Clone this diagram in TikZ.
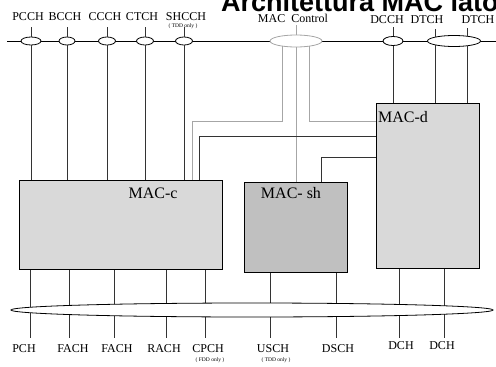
\documentclass[tikz,border=0pt]{standalone}
\usepackage{fontspec}
\setmainfont{Liberation Serif}
\setsansfont{Liberation Sans}
\usetikzlibrary{shapes.geometric,positioning}
\definecolor{boxgray}{HTML}{D9D9D9}
\definecolor{shgray}{HTML}{C0C0C0}
\definecolor{ctrlgray}{HTML}{A6A6A6}
\definecolor{linegray}{HTML}{333333}

\begin{document}
\begin{tikzpicture}[x=1pt,y=-1pt,font=\fontsize{12}{12}\selectfont,
  chan/.style={ellipse,draw,fill=white,inner sep=0pt,line width=0.8pt},
  mac/.style={draw,line width=0.8pt,fill=boxgray,anchor=north west,inner sep=0pt},
  wire/.style={linegray,line width=0.9pt},
  ctrl/.style={ctrlgray,line width=0.9pt},
  lbl/.style={inner sep=0pt,anchor=base},
  note/.style={inner sep=0pt,font=\fontsize{5.5}{6}\selectfont},
  big/.style={inner sep=0pt,font=\fontsize{16}{16}\selectfont}]
\useasboundingbox (0,0) rectangle (496,367);

% title (runs off the page)
\node[anchor=base west,inner sep=0pt,font=\fontsize{27}{27}\sffamily\bfseries] (title) at (221,11) {Architettura MAC lato};

% MAC entities
\node[mac,minimum width=203pt,minimum height=89pt] (macc) at (19,180) {};
\node[mac,fill=shgray,minimum width=103pt,minimum height=90pt] (macsh) at (244,182) {};
\node[mac,minimum width=103pt,minimum height=165pt] (macd) at (376,103) {};
\node[big] (macc-t) at (153,193) {MAC-c};
\node[big] (macsh-t) at (291,193) {MAC- sh};
\node[big,anchor=west] (macd-t) at (378,117) {MAC-d};

% logical channels (top)
\draw[line width=0.9pt] (7,41) -- (496,41);
\foreach \n/\x/\w/\lx/\t in {pcch/31/20/28/PCCH, bcch/67/16/65/BCCH,
    ccch/107/17/105/CCCH, ctch/145/17/142/CTCH, shcch/184/17/186/SHCCH}{
  \node[chan,minimum width=\w pt,minimum height=8pt] (\n) at (\x,41) {};
  \node[lbl] (\n-t) at (\lx,20) {\t};
  \draw[wire] (\n.north) -- ++(0,-10);
  \draw[wire] (\n.south) -- (\n.south |- macc.north);
}
\node[note] (shcch-n) at (183,26) {( TDD only )};

\node[chan,draw=ctrlgray,minimum width=52pt,minimum height=12pt] (ctrl) at (296,41) {};
\node[lbl] (ctrl-t) at (293,22) {MAC\ \ Control};
\draw[ctrl] (ctrl.north) -- ++(0,-10);

\node[chan,minimum width=20pt,minimum height=9pt] (dcch) at (393,41) {};
\node[chan,minimum width=53pt,minimum height=11pt] (dtch) at (454,41) {};
\node[lbl] (dcch-t) at (387,23) {DCCH};
\node[lbl] (dtch-t) at (427,23) {DTCH};
\node[lbl] (dtch2-t) at (478,23) {DTCH};
\draw[wire] (dcch.north) -- ++(0,-9);
\draw[wire] (dtch.167) -- ++(0,-8);
\draw[wire] (dtch.20) -- ++(0,-8);
\draw[wire] (dcch.south) -- (dcch.south |- macd.north);
\draw[wire] (dtch.-167) -- (dtch.-167 |- macd.north);
\draw[wire] (dtch.-20) -- (dtch.-20 |- macd.north);

% control paths
\coordinate (g1) at (192,121);
\draw[ctrl] (ctrl.-158) |- (g1) -- (g1 |- macc.north);
\draw[ctrl] (ctrl.south) -- (ctrl.south |- macsh.north);
\draw[ctrl] (ctrl.-22) |- (macd.west |- g1);

% MAC-d links
\coordinate (k1) at (199,136);
\coordinate (k2) at (321,157);
\draw[wire] (macd.west |- k1) -| (k1 |- macc.north);
\draw[wire] (macd.west |- k2) -| (k2 |- macsh.north);

% transport channels (bottom)
\foreach \x in {30,69,114,166,205}
  \draw[wire] (macc.south -| \x,0) -- (\x,338);
\foreach \x in {270,336}
  \draw[wire] (macsh.south -| \x,0) -- (\x,338);
\foreach \x in {399,444}
  \draw[wire] (macd.south -| \x,0) -- (\x,338);
\node[chan,minimum width=482pt,minimum height=14pt] (bus) at (252,310) {};

\foreach \n/\lx/\ly/\t in {pch/24/352/PCH, fach/73/352/FACH, fach2/117/352/FACH,
    rach/164/352/RACH, cpch/208/352/CPCH, usch/273/352/USCH, dsch/338/352/DSCH,
    dch/401/349/DCH, dch2/442/349/DCH}
  \node[lbl] (\n-t) at (\lx,\ly) {\t};
\node[note] (cpch-n) at (210,360) {( FDD only )};
\node[note] (usch-n) at (276,360) {( TDD only )};
\end{tikzpicture}
\end{document}
